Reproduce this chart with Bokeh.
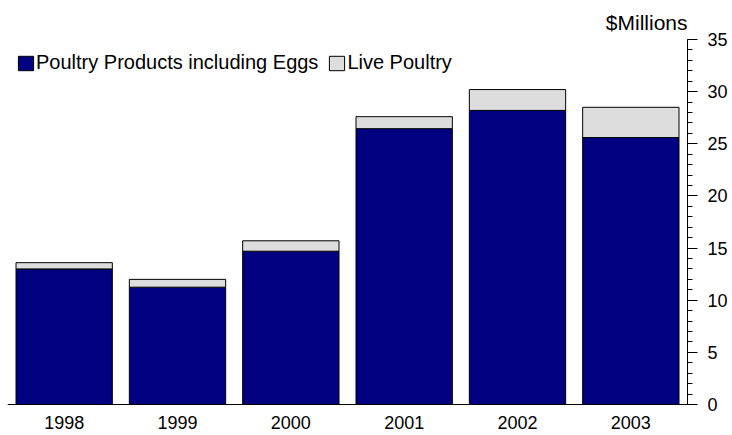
from bokeh.plotting import figure
from bokeh.models import ColumnDataSource, FactorRange, Range1d, SingleIntervalTicker, Legend, LegendItem
from bokeh.embed import file_html
from bokeh.resources import INLINE

years = ["1998", "1999", "2000", "2001", "2002", "2003"]
products = [13.0, 11.25, 14.7, 26.45, 28.2, 25.6]
live = [0.6, 0.75, 1.0, 1.15, 2.0, 2.9]
series = ["Poultry Products including Eggs", "Live Poultry"]
colors = ["#000080", "#DDDDDD"]

src = ColumnDataSource(dict(years=years, products=products, live=live))

FONT = "Liberation Sans"
Y_MAX = 35
Y_MIN = -2.97  # empty strip below the baseline that holds the year labels

p = figure(width=732, height=435, x_range=FactorRange(*years, range_padding=0),
           y_range=Range1d(Y_MIN, Y_MAX), y_axis_location="right",
           output_backend="svg", toolbar_location=None,
           title="$Millions", title_location="above")
p.min_border_left = 7
p.min_border_right = 45
p.min_border_top = 39
p.min_border_bottom = 0
p.outline_line_color = None
p.xgrid.visible = False
p.ygrid.visible = False
p.background_fill_color = "white"
p.border_fill_color = "white"

p.title.align = "right"
p.title.text_font = FONT
p.title.text_font_size = "21px"
p.title.text_font_style = "normal"
p.title.text_color = "black"
p.title.standoff = 12

rs = p.vbar_stack(["products", "live"], x="years", width=0.85, source=src,
                  fill_color=colors, line_color="black", line_width=1)

legend = Legend(items=[LegendItem(label=series[0], renderers=[rs[0]]),
                       LegendItem(label=series[1], renderers=[rs[1]])],
                location=(9, 361), orientation="horizontal")
legend.margin = 0
legend.padding = 0
legend.spacing = 9
legend.label_standoff = 1
legend.glyph_width = 19
legend.glyph_height = 18
legend.label_text_font = FONT
legend.label_text_font_size = "20px"
legend.label_text_color = "black"
legend.border_line_color = None
legend.background_fill_alpha = 0
p.add_layout(legend)

ya = p.yaxis[0]
ya.bounds = (0, Y_MAX)
ya.ticker = SingleIntervalTicker(interval=5, num_minor_ticks=5)
ya.major_tick_out = 10
ya.major_tick_in = 0
ya.minor_tick_out = 5
ya.minor_tick_in = 0
ya.major_label_standoff = 10
ya.major_label_text_font = FONT
ya.major_label_text_font_size = "18px"
ya.major_label_text_color = "black"
ya.axis_line_color = "black"
ya.major_tick_line_color = "black"
ya.minor_tick_line_color = "black"

xa = p.xaxis[0]
xa.fixed_location = 0
xa.major_tick_out = 0
xa.major_tick_in = 0
xa.minor_tick_out = 0
xa.major_label_standoff = 11
xa.major_label_text_font = FONT
xa.major_label_text_font_size = "18px"
xa.major_label_text_color = "black"
xa.axis_line_color = "black"

open("out.html", "w").write(file_html(p, INLINE))
